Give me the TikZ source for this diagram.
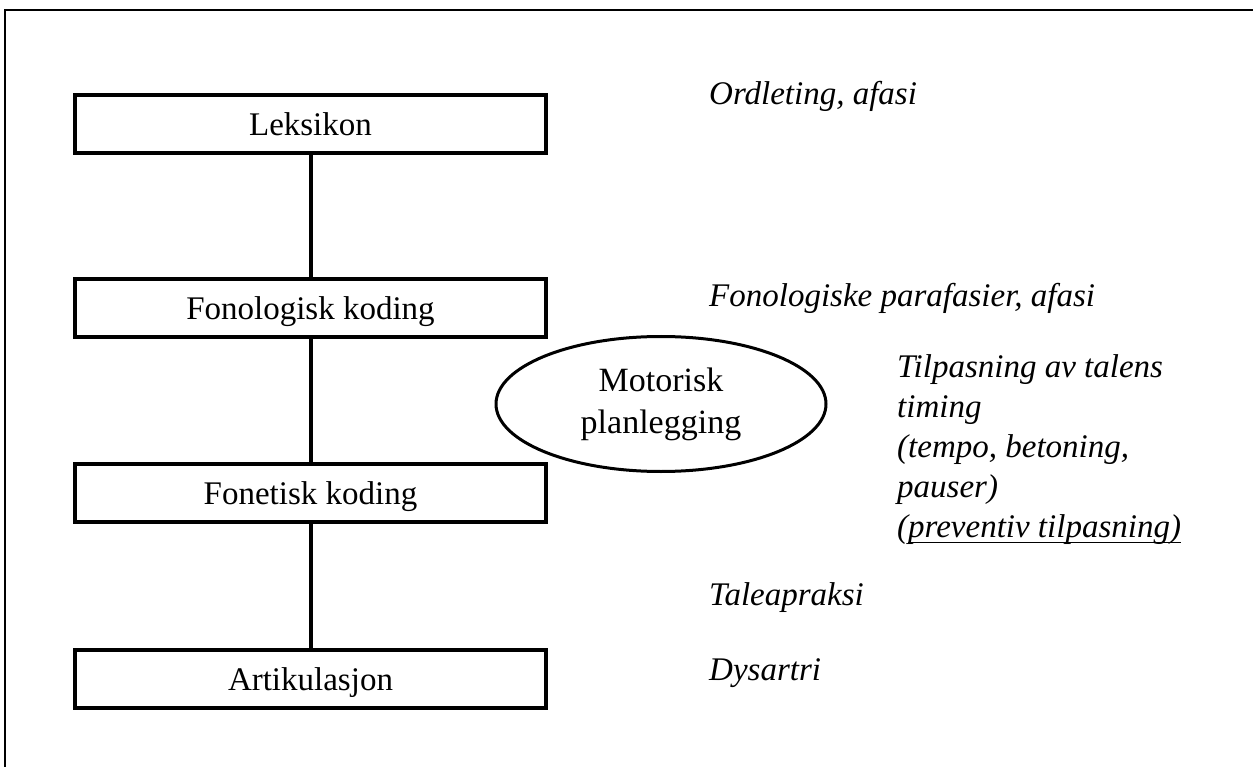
\documentclass[tikz,border=0pt]{standalone}
\usepackage{fontspec}
\setmainfont{Liberation Serif}
\usetikzlibrary{shapes.geometric}
\newcommand\ulpart[1]{\setbox0\hbox{#1}\rlap{\rule[-6pt]{\wd0}{1.5pt}}\box0}
\begin{document}
\begin{tikzpicture}[x=1pt,y=-1pt,
  stage/.style={draw, line width=4pt, minimum width=471pt, minimum height=58pt,
    inner sep=0pt, text height=23pt, text depth=0pt, font=\fontsize{33}{40}\selectfont},
  link/.style={line width=4pt},
  plan/.style={draw, ellipse, line width=3pt, minimum width=330pt, minimum height=135pt,
    inner sep=0pt, align=center, font=\fontsize{34}{42}\selectfont},
  note/.style={anchor=base west, inner sep=0pt, align=left,
    font=\fontsize{33}{40}\selectfont\itshape}]
\useasboundingbox (0,0) rectangle (1253,767);
\draw[line width=2.5pt] (5,767) -- (5,10) -- (1253,10);

\node[stage] (lek) at (310.5,124) {Leksikon};
\node[stage] (fonol) at (310.5,308) {Fonologisk koding};
\node[stage] (fonet) at (310.5,493) {Fonetisk koding};
\node[stage] (art) at (310.5,678.5) {Artikulasjon};

\draw[link] (lek) -- (fonol);
\draw[link] (fonol) -- (fonet);
\draw[link] (fonet) -- (art);

\node[plan] (mot) at (661,404) {Motorisk\\planlegging};

\node[note] (n1) at (709,105) {Ordleting, afasi};
\node[note] (n2) at (709,307) {Fonologiske parafasier, afasi};
% multi-line node: base anchor sits on the last line's baseline
\node[note] (n3) at (897,537) {Tilpasning av talens\\timing\\(tempo, betoning,\\pauser)\\(\ulpart{preventiv tilpasning)}};
\node[note] (n4) at (709,605) {Taleapraksi};
\node[note] (n5) at (709,680) {Dysartri};
\end{tikzpicture}
\end{document}
